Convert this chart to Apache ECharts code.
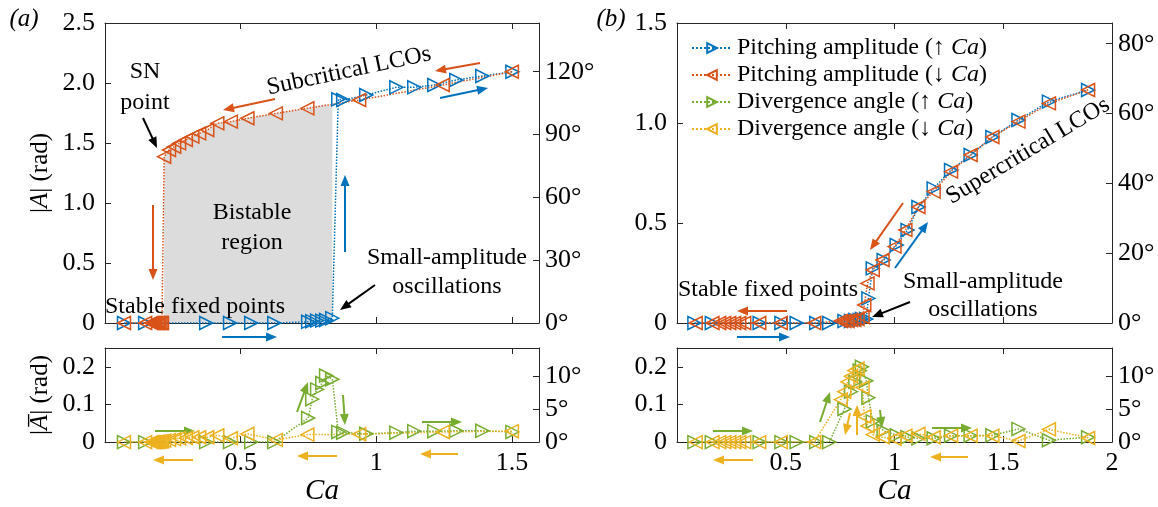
<!DOCTYPE html>
<html><head><meta charset="utf-8">
<script src="https://cdn.jsdelivr.net/npm/echarts@6/dist/echarts.min.js"></script>
<style>html,body{margin:0;padding:0;background:#fff}#c{width:1158px;height:507px}</style>
</head><body><div id="c"></div>
<script>
// ---------- Panel (a) data ----------
const CA_UP_L = [0.07,0.148,0.373,0.461,0.539,0.624,0.749,0.764,0.782,0.801,0.815,0.838,0.860,0.878,0.963,1.074,1.14,1.214,1.295,1.391,1.502];
const PITCH_UP_L = [0,0,0,0,0,0,0.01,0.015,0.02,0.02,0.025,0.04,1.864,1.858,1.9,1.964,1.964,1.983,2.025,2.058,2.094];
const DIV_UP_L = [0,0,0,0,0,0,0.064,0.114,0.14,0.157,0.177,0.167,0.027,0.025,0.022,0.025,0.029,0.029,0.03,0.03,0.027];
const CA_DN_L = [1.50,1.245,0.937,0.746,0.63,0.525,0.464,0.414,0.377,0.347,0.322,0.298,0.273,0.255,0.236,0.218,0.21,0.205,0.2,0.195,0.19,0.185,0.18,0.175,0.17,0.148,0.07];
const PITCH_DN_L = [2.094,1.983,1.858,1.789,1.747,1.706,1.678,1.664,1.608,1.58,1.553,1.525,1.497,1.469,1.442,1.386,0,0,0,0,0,0,0,0,0,0,0];
const DIV_DN_L = [0.029,0.027,0.021,0.02,0.006,0.022,0.01,0.018,0.013,0.013,0.013,0.011,0.01,0.008,0.006,0.004,0.002,0.002,0.001,0.001,0,0,0,0,0,0,0];
// ---------- Panel (b) data ----------
const CA_UP_R = [0.08,0.16,0.38,0.48,0.55,0.64,0.70,0.77,0.80,0.82,0.84,0.85,0.87,0.88,0.90,0.95,1.01,1.06,1.11,1.18,1.26,1.35,1.45,1.57,1.71,1.89];
const PITCH_UP_R = [0,0,0,0,0,0,0,0.01,0.01,0.015,0.015,0.02,0.02,0.123,0.273,0.315,0.39,0.465,0.58,0.673,0.765,0.84,0.93,1.015,1.107,1.165];
const DIV_UP_R = [0,0,0,0,0,0,0,0.088,0.134,0.16,0.19,0.2,0.163,0.118,0.055,0.03,0.018,0.013,0.01,0.01,0.017,0.017,0.018,0.035,0.005,0.013];
const CA_DN_R = [1.89,1.71,1.57,1.45,1.35,1.26,1.18,1.11,1.05,1.00,0.945,0.90,0.876,0.861,0.853,0.83,0.815,0.80,0.784,0.769,0.753,0.631,0.477,0.378,0.309,0.286,0.263,0.24,0.217,0.194,0.163,0.086];
const PITCH_DN_R = [1.165,1.098,1.007,0.93,0.84,0.757,0.657,0.58,0.465,0.382,0.315,0.265,0.198,0.09,0.03,0.02,0.015,0.015,0.01,0.01,0.01,0,0,0,0,0,0,0,0,0,0,0];
const DIV_DN_R = [0.011,0.034,0.003,0.017,0.017,0.017,0.013,0.022,0.017,0.009,0.013,0.02,0.043,0.068,0.145,0.195,0.19,0.175,0.16,0.134,0.113,0,0,0,0,0,0,0,0,0,0,0];
// ---------- Labels ----------
const NAMES = ['Pitching amplitude (\u2191 Ca)','Pitching amplitude (\u2193 Ca)','Divergence angle (\u2191 Ca)','Divergence angle (\u2193 Ca)'];
const X_MAX = [1.6, 2];
const Y_TOP_MAX = [2.5, 1.5];
const Y_BOT_MAX = 0.25;
const DEG_STEP_TOP = [30, 20];
const DEG_STEP_BOT = 5;

const FONT = '"Liberation Serif","Times New Roman",serif';
const COL = {blue:'#0072BD', red:'#D95319', green:'#77AC30', yellow:'#EDB120', k:'#000'};
const R2D = 180/Math.PI;
const AX = '#262626';
const TICK_FS = 26;

const grids = [
  {left:105, top:23, width:434, height:300},
  {left:105, top:348, width:434, height:99},
  {left:677, top:23, width:435, height:300},
  {left:677, top:348, width:435, height:99}
];
function isMult(v, step){ const r = v/step; return Math.abs(r-Math.round(r))<1e-6; }
function xAx(g, max, pos, show){
  return {type:'value', gridIndex:g, position:pos, min:0, max:max, interval:0.5,
    axisLine:{show:true, onZero:false, lineStyle:{color:AX, width:1}},
    axisTick:{show:true, inside:true, length:6, lineStyle:{color:AX}},
    axisLabel:{show:show, showMinLabel:false, margin:8, color:'#000', fontSize:TICK_FS, fontFamily:FONT,
      formatter: v => (v>0 && isMult(v,0.5)) ? String(+v.toFixed(1)) : ''},
    splitLine:{show:false}};
}
function yAx(g, max, step, pos, deg){
  return {type:'value', gridIndex:g, position:pos, min:0, max:max, interval:step,
    axisLine:{show:true, onZero:false, lineStyle:{color:AX, width:1}},
    axisTick:{show:true, inside:true, length:6, lineStyle:{color:AX}},
    axisLabel:{show:true, margin:deg?6:10, color:'#000', fontSize:TICK_FS, fontFamily:FONT,
      formatter: v => !isMult(v,step) ? '' : (deg ? Math.round(v)+'\u00B0' : (v===0?'0':v.toFixed(1)))},
    splitLine:{show:false}};
}
const xAxis = [
  xAx(0, X_MAX[0], 'bottom', false), xAx(0, X_MAX[0], 'top', false),
  xAx(1, X_MAX[0], 'bottom', true),  xAx(1, X_MAX[0], 'top', false),
  xAx(2, X_MAX[1], 'bottom', false), xAx(2, X_MAX[1], 'top', false),
  xAx(3, X_MAX[1], 'bottom', true),  xAx(3, X_MAX[1], 'top', false)
];
[2,6].forEach(i=>{ Object.assign(xAxis[i], {name:'{i|Ca}', nameLocation:'middle', nameGap:30,
  nameTextStyle:{rich:{i:{fontStyle:'italic', fontSize:29, fontFamily:FONT, color:'#000'}}}}); });
const yAxis = [
  yAx(0, Y_TOP_MAX[0], 0.5, 'left', false), yAx(0, Y_TOP_MAX[0]*R2D, DEG_STEP_TOP[0], 'right', true),
  yAx(1, Y_BOT_MAX, 0.1, 'left', false),    yAx(1, Y_BOT_MAX*R2D, DEG_STEP_BOT, 'right', true),
  yAx(2, Y_TOP_MAX[1], 0.5, 'left', false), yAx(2, Y_TOP_MAX[1]*R2D, DEG_STEP_TOP[1], 'right', true),
  yAx(3, Y_BOT_MAX, 0.1, 'left', false),    yAx(3, Y_BOT_MAX*R2D, DEG_STEP_BOT, 'right', true)
];
const yNameStyle = {fontSize:25, fontFamily:FONT, color:'#000', rich:{i:{fontStyle:'italic', fontSize:25, fontFamily:FONT, color:'#000'}}};
Object.assign(yAxis[0], {name:'|{i|A}| (rad)', nameLocation:'middle', nameGap:52, nameRotate:90, nameTextStyle:yNameStyle});
Object.assign(yAxis[2], {name:'|{i|A\u0305}| (rad)', nameLocation:'middle', nameGap:52, nameRotate:90, nameTextStyle:yNameStyle});

function ser(name, xs, ys, color, right, xi, yi){
  return {type:'line', name:name, xAxisIndex:xi, yAxisIndex:yi,
    data: xs.map((x,i)=>[x, ys[i]]), symbol:'triangle', symbolSize:13, symbolRotate: right ? -90 : 90,
    showSymbol:true, showAllSymbol:true,
    lineStyle:{color:color, width:1.5, type:'dotted'},
    itemStyle:{color:'rgba(255,255,255,0)', borderColor:color, borderWidth:1.5},
    emphasis:{disabled:true}, z:3};
}
// Bistable region shading (from red upper branch up to blue jump)
const upperDn = CA_DN_L.map((x,i)=>[x, PITCH_DN_L[i]]).filter(p=>p[1]>0.5).sort((a,b)=>a[0]-b[0]);
let jumpCa = 0; CA_UP_L.forEach((x,i)=>{ if (PITCH_UP_L[i] < 0.5) jumpCa = x; });
const shade = upperDn.filter(p=>p[0] <= jumpCa);
(function(){ const a = upperDn.filter(p=>p[0]<=jumpCa).pop(), b = upperDn.find(p=>p[0]>jumpCa);
  shade.push([jumpCa, a[1] + (b[1]-a[1])*(jumpCa-a[0])/(b[0]-a[0])]); })();

const series = [
  {type:'line', xAxisIndex:0, yAxisIndex:0, data:shade, symbol:'none', lineStyle:{width:0},
   areaStyle:{color:'#dcdcdc', opacity:1}, silent:true, z:1},
  ser(NAMES[0], CA_UP_L, PITCH_UP_L, COL.blue, true, 0, 0),
  ser(NAMES[1], CA_DN_L, PITCH_DN_L, COL.red, false, 0, 0),
  ser(NAMES[2], CA_UP_L, DIV_UP_L, COL.green, true, 2, 2),
  ser(NAMES[3], CA_DN_L, DIV_DN_L, COL.yellow, false, 2, 2),
  ser(NAMES[0], CA_UP_R, PITCH_UP_R, COL.blue, true, 4, 4),
  ser(NAMES[1], CA_DN_R, PITCH_DN_R, COL.red, false, 4, 4),
  ser(NAMES[2], CA_UP_R, DIV_UP_R, COL.green, true, 6, 6),
  ser(NAMES[3], CA_DN_R, DIV_DN_R, COL.yellow, false, 6, 6)
];

// ---------- annotations (pixel positions) ----------
function txt(s, x, y, opts){
  opts = opts || {};
  return {type:'text', x:x, y:y, rotation:(opts.rot||0)*Math.PI/180, z:100, silent:true,
    style:{text:s, x:0, y:0, fill:'#000', font:(opts.italic?'italic ':'')+(opts.size||24)+'px '+FONT,
      align:'center', verticalAlign:'middle', textAlign:'center', textVerticalAlign:'middle'}};
}
function arrow(x1,y1,x2,y2,color){
  const a = Math.atan2(y2-y1, x2-x1), L = 11, W = 4.5;
  const c = Math.cos(a), s = Math.sin(a);
  const bx = x2 - L*c, by = y2 - L*s;
  return {type:'group', z:100, silent:true, children:[
    {type:'line', shape:{x1:x1,y1:y1,x2:bx+1*c,y2:by+1*s}, style:{stroke:color, lineWidth:2}},
    {type:'polygon', shape:{points:[[x2,y2],[bx+W*s,by-W*c],[bx-W*s,by+W*c]]}, style:{fill:color}}
  ]};
}
const ARROWS = [
  [143,118,157,148,COL.k],[480,63,435,71,COL.red],[440,98,488,88,COL.blue],[275,99,223,110,COL.red],
  [153,205,153,280,COL.red],[345,252,345,175,COL.blue],[222,337,277,337,COL.blue],[375,285,340,310,COL.k],
  [155,431,195,431,COL.green],[193,460,153,460,COL.yellow],[297,412,308,382,COL.green],[343,395,345,425,COL.green],
  [337,456,297,456,COL.yellow],[422,422,462,422,COL.green],[458,454,420,454,COL.yellow],
  [903,203,870,250,COL.red],[895,268,928,222,COL.blue],[787,311,737,311,COL.red],[737,337,790,337,COL.blue],
  [910,302,872,317,COL.k],
  [713,431,753,431,COL.green],[753,460,713,460,COL.yellow],[820,422,830,392,COL.green],[850,413,845,435,COL.yellow],
  [857,435,857,405,COL.yellow],[880,410,882,428,COL.green],[932,428,972,428,COL.green],[968,457,930,457,COL.yellow]
];
const graphic = [
  txt('(a)', 24, 19, {italic:true, size:25}), txt('(b)', 611, 19, {italic:true, size:25}),
  txt('SN', 145, 72), txt('point', 145, 103),
  txt('Subcritical LCOs', 349, 71, {rot:12}),
  txt('Bistable', 252, 213), txt('region', 252, 243),
  txt('Small-amplitude', 447, 258), txt('oscillations', 447, 287),
  txt('Stable fixed points', 195, 307),
  txt('Supercritical LCOs', 1028, 151, {rot:31}),
  txt('Stable fixed points', 768, 290),
  txt('Small-amplitude', 983, 282), txt('oscillations', 983, 310)
].concat(ARROWS.map(a=>arrow.apply(null, a)));

const chart = echarts.init(document.getElementById('c'), null, {renderer:'canvas'});
chart.setOption({
  animation:false, backgroundColor:'#fff',
  grid: grids, xAxis: xAxis, yAxis: yAxis, series: series, graphic: graphic,
  legend:{data:NAMES, orient:'vertical', left:686, top:31, itemWidth:40, itemHeight:12, itemGap:3,
    textStyle:{fontSize:24, fontFamily:FONT, color:'#000', rich:{i:{fontStyle:'italic', fontSize:24, fontFamily:FONT, color:'#000'}}},
    formatter: n => n.replace('Ca', '{i|Ca}'), selectedMode:false}
});
</script></body></html>
